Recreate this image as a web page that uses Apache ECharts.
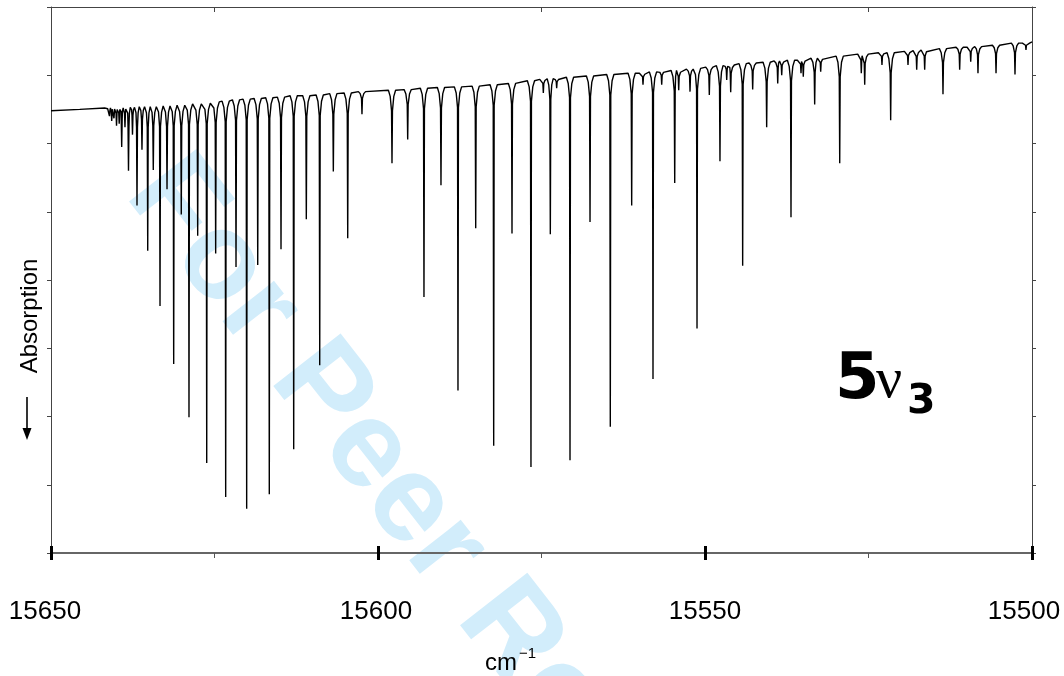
<!DOCTYPE html>
<html>
<head>
<meta charset="utf-8">
<script src="https://cdn.jsdelivr.net/npm/echarts@6/dist/echarts.min.js"></script>
<style>
html,body{margin:0;padding:0;background:#fff;}
#chart{width:1064px;height:676px;}
</style>
</head>
<body>
<div id="chart"></div>
<script>
// ---- data ----
// x: wavenumber (cm-1), y: arbitrary absorption-trace units (unlabelled axis 0..8)
const xTicks = [15650, 15600, 15550, 15500];
const baseCm  = [15650, 15645.6, 15641.8, 15500];
const baseVal = [6.48, 6.50, 6.52, 7.49];

const lineCm = [
 15641.06,15640.72,15640.37,15639.98,15639.57,15639.19,15638.69,15638.15,15637.54,15636.85,
 15636.09,15635.21,15634.36,15633.33,15632.26,15631.24,15630.08,15628.90,15627.57,15626.19,
 15624.82,15623.29,15621.71,15620.08,15618.39,15616.62,15614.83,15612.89,15610.96,15608.91,
 15606.83,15604.63,15602.45,15597.86,15595.46,15592.97,15590.37,15587.77,15585.06,15582.31,
 15579.51,15576.61,15574.72,15573.65,15572.68,15570.64,15567.58,15564.48,15561.21,15559.48,
 15557.95,15556.62,15554.63,15554.02,15552.29,15551.22,15549.34,15547.71,15546.68,15546.07,
 15544.24,15542.71,15540.57,15538.88,15538.27,15536.85,15535.32,15534.97,15533.23,15532.31,
 15529.40,15526.10,15525.58,15522.94,15521.61,15518.96,15517.63,15516.41,15513.61,15511.06,
 15509.37,15508.26,15505.50,15502.60,15500.92
];
const lineTop = [
 6.52,6.52,6.52,6.52,6.52,6.52,6.53,6.53,6.53,6.54,
 6.54,6.54,6.54,6.55,6.55,6.56,6.56,6.58,6.58,6.59,
 6.61,6.62,6.64,6.65,6.66,6.67,6.68,6.70,6.70,6.71,
 6.73,6.74,6.76,6.78,6.79,6.81,6.82,6.83,6.84,6.86,
 6.88,6.92,6.94,6.95,6.95,6.97,6.99,7.01,7.03,7.03,
 7.05,7.06,7.07,7.07,7.09,7.10,7.12,7.14,7.15,7.15,
 7.17,7.18,7.19,7.21,7.21,7.22,7.22,7.23,7.25,7.25,
 7.28,7.31,7.31,7.33,7.33,7.35,7.36,7.37,7.39,7.41,
 7.41,7.42,7.44,7.47,7.47
];
const lineMin = [
 6.40,6.33,6.37,6.26,6.29,5.95,6.24,5.60,6.13,5.09,
 5.91,4.43,5.61,3.62,5.33,2.77,4.96,1.99,4.65,1.32,
 4.39,0.82,4.19,0.65,4.22,0.86,4.45,1.52,4.89,2.75,
 5.59,4.61,6.43,5.71,6.06,3.75,5.39,2.38,4.76,1.57,
 4.68,1.26,6.74,4.67,6.81,1.36,4.85,1.85,5.09,6.86,
 2.55,6.86,5.42,6.78,6.76,3.29,6.71,5.74,6.93,6.75,
 4.21,6.79,6.24,6.88,7.00,4.92,7.03,6.98,6.57,7.05,
 5.71,7.03,6.86,7.15,6.34,7.15,7.08,7.08,6.72,7.08,
 7.20,7.03,7.03,7.01,7.37
];

// ---- build the trace (line shape = drawing style) ----
const W_TOP = 0.55, W_NARROW = 0.07;
const pts = [];
baseCm.forEach((c, i) => pts.push([c, baseVal[i]]));
lineCm.forEach((c, i) => {
  const prev = i > 0 ? lineCm[i - 1] : c + 2;
  const next = i < lineCm.length - 1 ? lineCm[i + 1] : c - 2;
  const aL = Math.min(W_TOP, 0.45 * (prev - c));
  const aR = Math.min(W_TOP, 0.45 * (c - next));
  const t = lineTop[i], m = lineMin[i];
  const dip = Math.min(0.3, 0.3 * (t - m));
  pts.push([c + aL, t], [c + aL * 0.5, t - dip * 0.3], [c + W_NARROW, t - dip], [c, m],
           [c - W_NARROW, t - dip], [c - aR * 0.5, t - dip * 0.3], [c - aR, t]);
});
pts.sort((p, q) => q[0] - p[0]);

const FONT = "'Liberation Sans', Arial, sans-serif";
const chart = echarts.init(document.getElementById('chart'), null, {renderer: 'canvas'});
const xBase = {type: 'value', min: 15500, max: 15650, interval: 50, inverse: true, splitLine: {show: false}};
// label nudges (label styles)
const labelStyleKey = {15650: 'a', 15600: 'b', 15550: 'c', 15500: 'd'};
chart.setOption({
  animation: false,
  backgroundColor: '#fff',
  grid: {left: 51, right: 32, top: 7, bottom: 123, containLabel: false, outerBoundsMode: 'none'},
  xAxis: [
    Object.assign({}, xBase, {
      position: 'bottom',
      axisLine: {show: true, lineStyle: {color: '#666', width: 2}},
      axisTick: {show: true, inside: false, length: 7, lineStyle: {color: '#000', width: 3}},
      minorTick: {show: true, splitNumber: 2, length: 5, lineStyle: {color: '#555', width: 1}},
      axisLabel: {show: true, margin: 46, fontSize: 26, color: '#000', fontFamily: FONT,
        formatter: v => xTicks.indexOf(v) >= 0 ? '{' + labelStyleKey[v] + '|' + v + '}' : '',
        rich: {
          a: {fontSize: 26, fontFamily: FONT, color: '#000', padding: [0, 12, 0, 0]},
          b: {fontSize: 26, fontFamily: FONT, color: '#000', padding: [0, 4, 0, 0]},
          c: {fontSize: 26, fontFamily: FONT, color: '#000', padding: [0, 0, 0, 0]},
          d: {fontSize: 26, fontFamily: FONT, color: '#000', padding: [0, 16, 0, 0]}
        }}
    }),
    Object.assign({}, xBase, {
      position: 'bottom',
      axisLine: {show: false},
      axisTick: {show: true, inside: true, length: 7, lineStyle: {color: '#000', width: 3}},
      axisLabel: {show: false}
    }),
    Object.assign({}, xBase, {
      position: 'top',
      axisLine: {show: true, lineStyle: {color: '#444', width: 1}},
      axisTick: {show: false, inside: true},
      minorTick: {show: true, splitNumber: 2, length: 5, lineStyle: {color: '#444', width: 1}},
      axisLabel: {show: false}
    })
  ],
  yAxis: [
    {type: 'value', min: 0, max: 8, interval: 1, position: 'left',
     axisLine: {show: true, lineStyle: {color: '#444', width: 1}},
     axisTick: {show: true, inside: false, length: 4, lineStyle: {color: '#444'}},
     axisLabel: {show: false}, splitLine: {show: false}},
    {type: 'value', min: 0, max: 8, interval: 1, position: 'right',
     axisLine: {show: true, lineStyle: {color: '#444', width: 1}},
     axisTick: {show: true, inside: false, length: 4, lineStyle: {color: '#444'}},
     axisLabel: {show: false}, splitLine: {show: false}}
  ],
  graphic: [
    {type: 'text', z: -1, x: 151, y: 174, rotation: -52 * Math.PI / 180,
     style: {text: 'For Peer Review', fill: '#d2edfb', font: 'bold 124px ' + FONT, align: 'left', verticalAlign: 'middle'}},
    {type: 'text', x: 30, y: 316, rotation: Math.PI / 2,
     style: {text: 'Absorption', fill: '#000', font: '24px ' + FONT, align: 'center', verticalAlign: 'middle'}},
    {type: 'line', shape: {x1: 27, y1: 397, x2: 27, y2: 430}, style: {stroke: '#000', lineWidth: 1.6}},
    {type: 'polygon', shape: {points: [[22.5, 428], [31.5, 428], [27, 440]]}, style: {fill: '#000'}},
    {type: 'text', x: 485, y: 663, style: {text: 'cm', fill: '#000', font: '24px ' + FONT, align: 'left', verticalAlign: 'middle'}},
    {type: 'text', x: 519, y: 654, style: {text: '\u22121', fill: '#000', font: '15px ' + FONT, align: 'left', verticalAlign: 'middle'}},
    {type: 'text', x: 835, y: 381, style: {text: '5', fill: '#000', font: 'bold 64px ' + "'DejaVu Sans', " + FONT, align: 'left', verticalAlign: 'middle'}},
    {type: 'text', x: 876, y: 382, style: {text: '\u03bd', fill: '#000', font: "58px 'Liberation Serif', 'Times New Roman', serif", align: 'left', verticalAlign: 'middle'}},
    {type: 'text', x: 907, y: 402, style: {text: '3', fill: '#000', font: 'bold 41px ' + "'DejaVu Sans', " + FONT, align: 'left', verticalAlign: 'middle'}}
  ],
  series: [{
    type: 'line', xAxisIndex: 0, yAxisIndex: 0, data: pts, showSymbol: false, symbol: 'none',
    sampling: null, clip: true, z: 3,
    lineStyle: {color: '#000', width: 1.4}
  }]
});
</script>
</body>
</html>
